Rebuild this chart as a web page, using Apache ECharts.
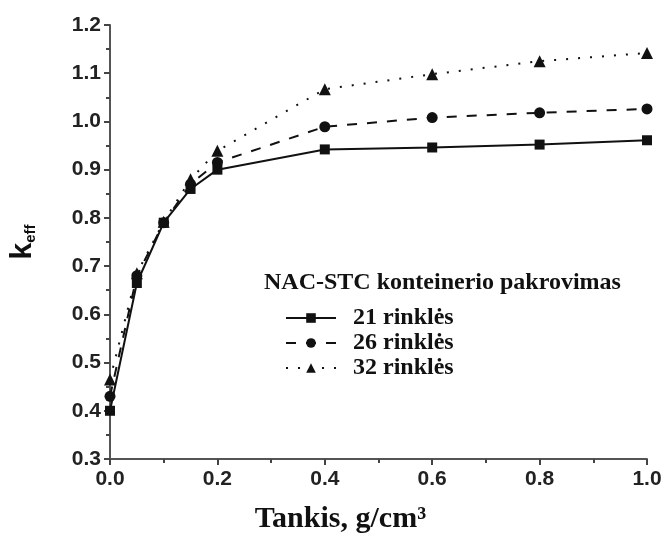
<!DOCTYPE html>
<html>
<head>
<meta charset="utf-8">
<script src="https://cdn.jsdelivr.net/npm/echarts@6/dist/echarts.min.js"></script>
<style>html,body{margin:0;padding:0;background:#fff;}#c{width:668px;height:535px;}</style>
</head>
<body>
<div id="c"></div>
<script>
const densities = [0.0, 0.05, 0.1, 0.15, 0.2, 0.4, 0.6, 0.8, 1.0];
const k21 = [0.400, 0.665, 0.790, 0.860, 0.900, 0.942, 0.946, 0.952, 0.961];
const k26 = [0.430, 0.680, 0.790, 0.870, 0.915, 0.989, 1.008, 1.018, 1.026];
const k32 = [0.465, 0.685, 0.792, 0.880, 0.939, 1.067, 1.098, 1.125, 1.142];
const seriesNames = ['21 rinklės', '26 rinklės', '32 rinklės'];
const legendTitle = 'NAC-STC konteinerio pakrovimas';
const xTitle = 'Tankis, g/cm³';

const pairs = arr => densities.map((x, i) => [x, arr[i]]);
const chart = echarts.init(document.getElementById('c'));
const tickFont = {fontFamily: 'Liberation Sans', fontWeight: 'bold', fontSize: 21, color: '#222'};
const axisLine = {show: true, lineStyle: {color: '#555', width: 2}};
chart.setOption({
  animation: false,
  backgroundColor: '#fff',
  grid: {left: 110, right: 21, top: 25, bottom: 76, outerBoundsMode: 'none', containLabel: false},
  graphic: [{
    type: 'text', left: 264, top: 271,
    style: {text: legendTitle, font: 'bold 24px "Liberation Serif"', fill: '#111'}
  }],
  legend: {
    orient: 'vertical', left: 280, top: 301, itemGap: 1,
    itemWidth: 50, itemHeight: 12,
    textStyle: {fontFamily: 'Liberation Serif', fontWeight: 'bold', fontSize: 24, lineHeight: 20, color: '#111', padding: [0, 0, 0, 12]},
    data: seriesNames
  },
  xAxis: {
    type: 'value', min: 0, max: 1, interval: 0.2,
    name: xTitle, nameLocation: 'middle', nameGap: 45,
    nameTextStyle: {fontFamily: 'Liberation Serif', fontWeight: 'bold', fontSize: 30, color: '#111', padding: [0, 76, 0, 0]},
    axisLine: axisLine,
    axisTick: {show: true, length: 6, lineStyle: {color: '#444', width: 2}},
    minorTick: {show: true, splitNumber: 2, length: 4, lineStyle: {color: '#444', width: 2}},
    splitLine: {show: false},
    axisLabel: Object.assign({margin: 10, formatter: v => v.toFixed(1)}, tickFont)
  },
  yAxis: {
    type: 'value', min: 0.3, max: 1.2, interval: 0.1,
    name: '{k|k}{s|eff}', nameLocation: 'middle', nameGap: 72, nameRotate: 90,
    nameTextStyle: {rich: {
      k: {fontFamily: 'Liberation Sans', fontWeight: 'bold', fontSize: 30, color: '#111'},
      s: {fontFamily: 'Liberation Sans', fontWeight: 'bold', fontSize: 15, color: '#111', verticalAlign: 'bottom', padding: [14, 0, 0, 0]}
    }},
    axisLine: axisLine,
    axisTick: {show: true, length: 6, lineStyle: {color: '#444', width: 2}},
    minorTick: {show: true, splitNumber: 2, length: 4, lineStyle: {color: '#444', width: 2}},
    splitLine: {show: false},
    axisLabel: Object.assign({margin: 9, formatter: v => v.toFixed(1)}, tickFont)
  },
  series: [
    {name: seriesNames[0], type: 'line', data: pairs(k21), symbol: 'rect', symbolSize: 10,
     lineStyle: {color: '#111', width: 2, type: 'solid'}, itemStyle: {color: '#111'}},
    {name: seriesNames[1], type: 'line', data: pairs(k26), symbol: 'circle', symbolSize: 11,
     lineStyle: {color: '#111', width: 2, type: [10, 10]}, itemStyle: {color: '#111'}},
    {name: seriesNames[2], type: 'line', data: pairs(k32), symbol: 'triangle', symbolSize: 12,
     lineStyle: {color: '#111', width: 2, type: [2, 10]}, itemStyle: {color: '#111'}}
  ]
});
</script>
</body>
</html>
